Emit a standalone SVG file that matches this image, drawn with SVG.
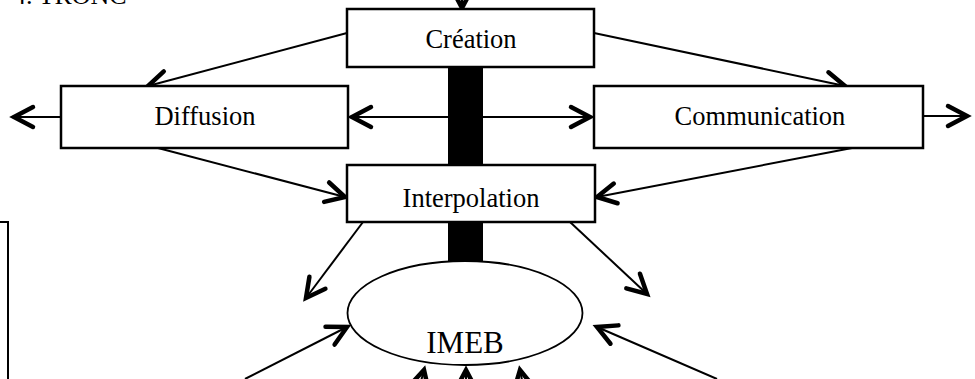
<svg xmlns="http://www.w3.org/2000/svg" width="975" height="379" viewBox="0 0 975 379">
<style>
.box{fill:#fff;stroke:#000;stroke-width:2.5}
.lbl{font-family:"Liberation Serif","Times New Roman",serif;font-size:26.5px;fill:#000;text-anchor:middle}
.c{stroke:#000;stroke-width:2;fill:none;marker-end:url(#ah)}
.bar{fill:#000}
</style>
<defs>
<marker id="ah" markerUnits="userSpaceOnUse" markerWidth="40" markerHeight="40" viewBox="-30 -20 40 40" refX="0" refY="0" orient="auto-start-reverse" overflow="visible">
<path d="M-19,-10 L0,0 L-19,10" fill="none" stroke="#000" stroke-width="4.5" stroke-linecap="round" stroke-linejoin="miter"/>
</marker>
</defs>
<rect width="975" height="379" fill="#fff"/>
<text x="13" y="4" font-family="Liberation Serif,serif" font-size="26" fill="#000">4. TRONC</text>
<path d="M0,222 H8 V379" fill="none" stroke="#000" stroke-width="2"/>
<rect class="bar" x="448" y="66" width="35" height="100"/>
<rect class="bar" x="448" y="221" width="35" height="42"/>
<g id="connectors">
<line class="c" x1="462" y1="-20" x2="462" y2="8"/>
<line class="c" x1="347" y1="33" x2="148" y2="86"/>
<line class="c" x1="594" y1="33" x2="845" y2="86"/>
<line class="c" x1="352" y1="117" x2="590" y2="117" style="marker-start:url(#ah)"/>
<line class="c" x1="61" y1="117" x2="14" y2="117"/>
<line class="c" x1="923" y1="116" x2="967" y2="116"/>
<line class="c" x1="158" y1="148" x2="345" y2="197"/>
<line class="c" x1="852" y1="148" x2="597" y2="197"/>
<line class="c" x1="363" y1="222" x2="306" y2="298"/>
<line class="c" x1="570" y1="222" x2="647" y2="294"/>
<line class="c" x1="245" y1="379" x2="347" y2="327"/>
<line class="c" x1="717" y1="379" x2="597" y2="327"/>
<line class="c" x1="416" y1="400" x2="424" y2="370"/>
<line class="c" x1="466" y1="400" x2="466" y2="370"/>
<line class="c" x1="526" y1="400" x2="520" y2="370"/>
</g>
<g id="creation"><rect class="box" x="347" y="9" width="247" height="58"/><text class="lbl" x="471" y="48">Création</text></g>
<g id="diffusion"><rect class="box" x="61" y="86" width="287" height="62"/><text class="lbl" x="205" y="125">Diffusion</text></g>
<g id="communication"><rect class="box" x="594" y="86" width="329" height="62"/><text class="lbl" x="760" y="125">Communication</text></g>
<g id="interpolation"><rect class="box" x="347" y="165" width="248" height="57"/><text class="lbl" x="471" y="207">Interpolation</text></g>
<g id="imeb"><ellipse cx="465" cy="313" rx="117.5" ry="52" fill="#fff" stroke="#000" stroke-width="1.8"/><text class="lbl" x="465" y="353" style="font-size:31px">IMEB</text></g>
</svg>
